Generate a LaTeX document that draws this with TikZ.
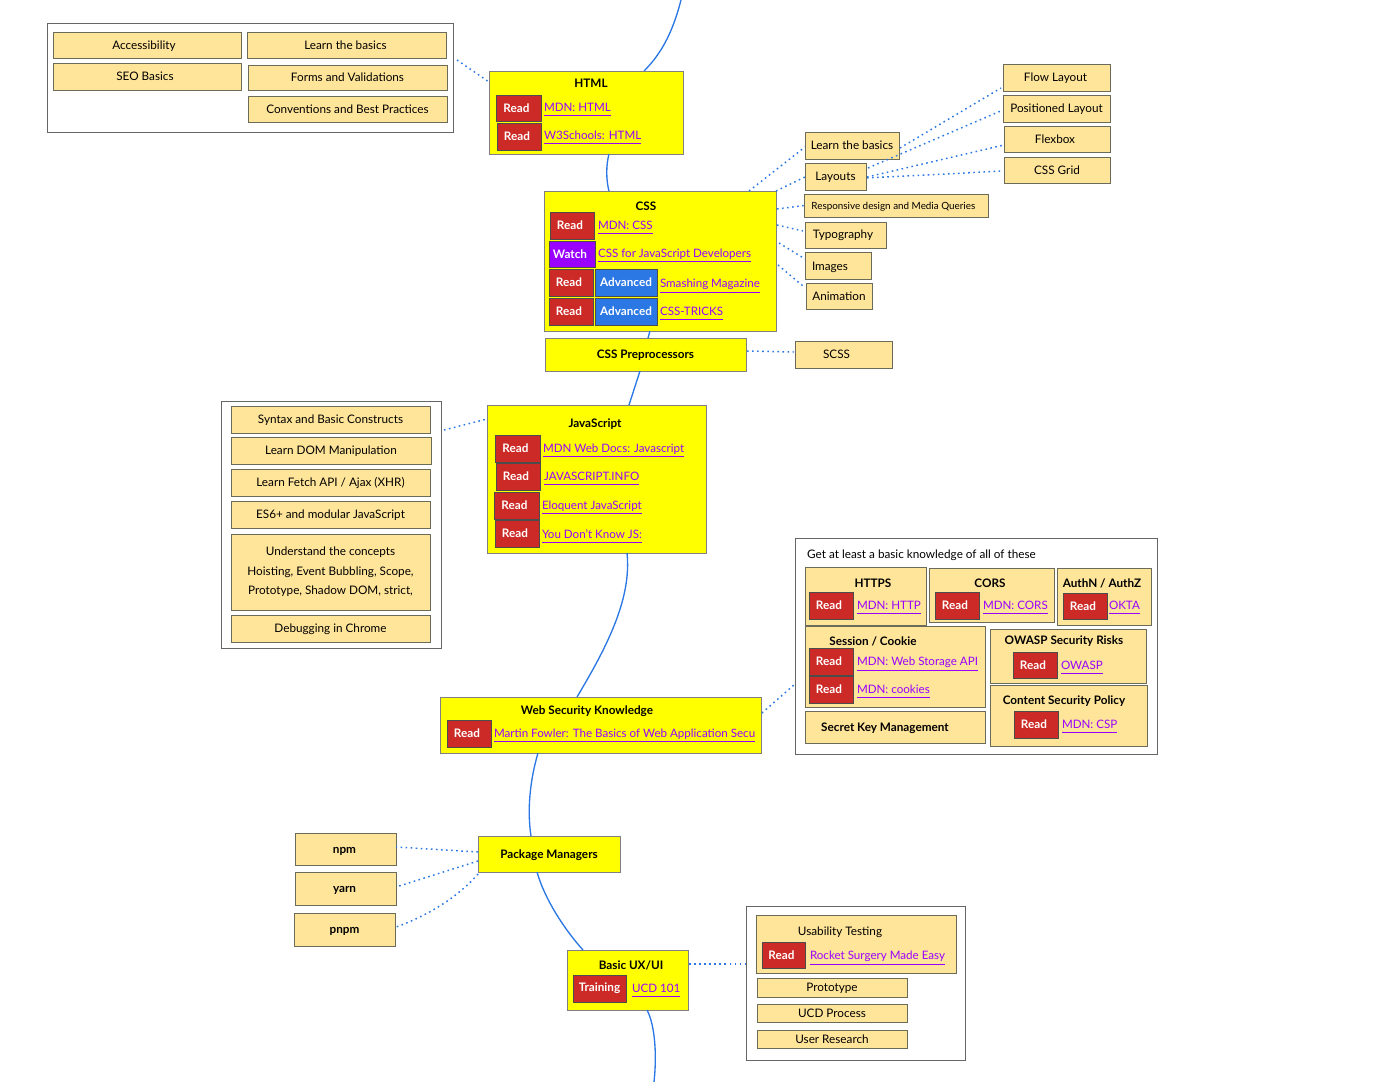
\documentclass[tikz,border=0pt]{standalone}
\usepackage{fontspec}
\setmainfont{Lato}
\definecolor{cyel}{HTML}{FFFF00}
\definecolor{cbox}{HTML}{FFE599}
\definecolor{cred}{HTML}{CC2A26}
\definecolor{cpur}{HTML}{9900FF}
\definecolor{cblu}{HTML}{2B78E4}
\definecolor{cedge}{HTML}{6B6B5A}
\tikzset{
 base/.style={draw=cedge,line width=0.65pt,inner sep=0pt,outer sep=0pt,rectangle,align=center,text=black,font=\fontsize{8.8}{14.6}\selectfont},
 grp/.style={base,draw=black!60,fill=white,line width=.6pt},
 yel/.style={base,draw=black!50,fill=cyel,text height=8.4pt,text depth=1.9pt},
 tan/.style={base,fill=cbox,text height=8.4pt,text depth=1.9pt},
 tanm/.style={base,fill=cbox},
 lshift/.style={execute at end node={\hspace{#1pt}}},
 badgeb/.style={base,draw=black!70,fill=cred,text=white,font=\fontsize{8.8}{10}\bfseries\selectfont},
 badge/.style={badgeb,lshift=3},
 watch/.style={badge,fill=cpur},
 adv/.style={badgeb,fill=cblu},
 ttl/.style={inner sep=0pt,outer sep=0pt,text=black,font=\fontsize{8.8}{10}\bfseries\selectfont},
 plain/.style={inner sep=0pt,outer sep=0pt,text=black,font=\fontsize{8.8}{10}\selectfont},
 multi/.style={inner sep=0pt,outer sep=0pt,text=black,align=center,font=\fontsize{8.8}{14.6}\selectfont},
 lnk/.style={inner sep=0pt,outer sep=0pt,anchor=west,yshift=-2.2pt,text=cpur,font=\fontsize{8.7}{10}\selectfont},
 road/.style={draw=cblu,line width=1pt},
 dot/.style={draw=cblu,line width=1.1pt,dash pattern=on 1.2pt off 2.6pt},
}
\newcommand{\Bx}[7]{\node[#1,minimum width={(#5-#3)*0.75pt},minimum height={(#6-#4)*0.75pt}] (#2) at ({(#3+#5)/2},{(#4+#6)/2}) {#7};}
\newcommand{\Tt}[5][ttl]{\node[#1] (#2) at (#3,{#4+1}) {#5};}
\newcommand{\Lk}[4]{\node[lnk] (#1) at (#2,#3) {\underline{\rule[-1.4pt]{0pt}{1pt}#4}};}
\begin{document}
\begin{tikzpicture}[x=0.75pt,y=-0.75pt]
\useasboundingbox (0,0) rectangle (1400,1082);
\coordinate (topend) at (681,0);
\coordinate (botend) at (654,1082);
% groups
\Bx{grp}{ga}{47}{23}{453}{132}{}
\Bx{tan,lshift=4.5}{a1}{53}{32}{241}{58}{Accessibility}
\Bx{tan,lshift=1.5}{a2}{247}{32}{446}{58}{Learn the basics}
\Bx{tan,lshift=3}{a3}{53}{63}{241}{90}{SEO Basics}
\Bx{tan}{a4}{248}{65}{447}{90}{Forms and Validations}
\Bx{tan}{a5}{248}{96}{447}{122}{Conventions and Best Practices}
% HTML
\Bx{yel}{html}{489}{71}{683}{154}{}
\Tt{htmlt}{591}{82}{HTML}
\Bx{badge}{h1}{496}{95}{541}{121}{Read}
\Lk{h1l}{544}{107}{MDN: HTML}
\Bx{badge}{h2}{497}{123}{541}{150}{Read}
\Lk{h2l}{544}{135}{W3Schools: HTML}
% CSS
\Bx{yel}{css}{544}{191}{776}{331}{}
\Tt{csst}{646}{205}{CSS}
\Bx{badge}{c1}{550}{212}{594}{239}{Read}
\Lk{c1l}{598}{225}{MDN: CSS}
\Bx{watch}{c2}{549}{241}{595}{267}{Watch}
\Lk{c2l}{598}{253}{CSS for JavaScript Developers}
\Bx{badge}{c3}{549}{269}{593}{296}{Read}
\Bx{adv}{c3a}{595}{269}{657}{296}{Advanced}
\Lk{c3l}{660}{283}{Smashing Magazine}
\Bx{badge}{c4}{549}{298}{593}{325}{Read}
\Bx{adv}{c4a}{595}{298}{657}{325}{Advanced}
\Lk{c4l}{660}{311}{CSS-TRICKS}
% CSS children
\Bx{tan}{lb}{805}{132}{899}{159}{Learn the basics}
\Bx{tan}{lay}{805}{163}{866}{190}{Layouts}
\Bx{tan,font=\fontsize{7.4}{9}\selectfont,lshift=4}{resp}{804}{194}{988}{217}{Responsive design and Media Queries}
\Bx{tan}{typ}{805}{222}{886}{248}{}
\Tt[plain]{typt}{843}{234}{Typography}
\Bx{tan}{img}{805}{252}{871}{279}{}
\Tt[plain]{imgt}{830}{266}{Images}
\Bx{tan}{anim}{806}{283}{872}{309}{Animation}
\Bx{tan,lshift=1.5}{flow}{1003}{64}{1110}{91}{Flow Layout}
\Bx{tan}{pos}{1003}{95}{1110}{122}{Positioned Layout}
\Bx{tan,lshift=3}{flex}{1004}{126}{1110}{152}{Flexbox}
\Bx{tan}{grid}{1004}{157}{1110}{183}{CSS Grid}
% Prep
\Bx{yel,font=\fontsize{8.8}{10}\bfseries\selectfont}{prep}{545}{338}{746}{371}{CSS Preprocessors}
\Bx{tan,lshift=10.5}{scss}{795}{341}{892}{368}{SCSS}
% JS group
\Bx{grp}{gb}{221}{401}{441}{648}{}
\Bx{tan}{b1}{231}{406}{430}{433}{Syntax and Basic Constructs}
\Bx{tan}{b2}{231}{437}{431}{464}{Learn DOM Manipulation}
\Bx{tan}{b3}{231}{469}{430}{496}{Learn Fetch API / Ajax (XHR)}
\Bx{tan}{b4}{231}{501}{430}{528}{ES6+ and modular JavaScript}
\Bx{tanm}{b5}{231}{534}{430}{610}{}
\Tt[multi]{b5t}{330.5}{571}{Understand the concepts\\Hoisting, Event Bubbling, Scope,\\Prototype, Shadow DOM, strict,}
\Bx{tan}{b6}{231}{615}{430}{642}{Debugging in Chrome}
% JS
\Bx{yel}{js}{487}{405}{706}{553}{}
\Tt{jst}{595}{423.5}{JavaScript}
\Bx{badge}{j1}{495}{435}{540}{462}{Read}
\Lk{j1l}{543}{448}{MDN Web Docs: Javascript}
\Bx{badge}{j2}{496}{463}{540}{490}{Read}
\Lk{j2l}{544}{476}{JAVASCRIPT.INFO}
\Bx{badge}{j3}{494}{492}{539}{519}{Read}
\Lk{j3l}{542}{505}{Eloquent JavaScript}
\Bx{badge}{j4}{495}{520}{539}{547}{Read}
\Lk{j4l}{542}{533}{You Don't Know JS:}
% Security group
\Bx{grp}{gc}{795}{538}{1157}{754}{}
\Tt[plain]{gct}{921.5}{554}{Get at least a basic knowledge of all of these}
\Bx{tan}{s1}{805}{567}{926}{625}{}
\Tt{s1t}{873}{582}{HTTPS}
\Bx{badge}{s1r}{809}{592}{853}{619}{Read}
\Lk{s1l}{857}{605}{MDN: HTTP}
\Bx{tan}{s2}{929}{568}{1054}{622}{}
\Tt{s2t}{990}{582}{CORS}
\Bx{badge}{s2r}{935}{592}{979}{619}{Read}
\Lk{s2l}{983}{605}{MDN: CORS}
\Bx{tan}{s3}{1057}{568}{1151}{625}{}
\Tt{s3t}{1102}{582}{AuthN / AuthZ}
\Bx{badge}{s3r}{1063}{593}{1107}{619}{Read}
\Lk{s3l}{1109}{605}{OKTA}
\Bx{tan}{s4}{805}{626}{985}{707}{}
\Tt{s4t}{873}{640}{Session / Cookie}
\Bx{badge}{s4r}{809}{648}{853}{675}{Read}
\Lk{s4l}{857}{661}{MDN: Web Storage API}
\Bx{badge}{s4s}{809}{676}{853}{703}{Read}
\Lk{s4m}{857}{689}{MDN: cookies}
\Bx{tan}{s5}{805}{711}{985}{743}{}
\Tt{s5t}{885}{727}{Secret Key Management}
\Bx{tan}{s6}{990}{629}{1146}{683}{}
\Tt{s6t}{1064}{640}{OWASP Security Risks}
\Bx{badge}{s6r}{1013}{652}{1057}{678}{Read}
\Lk{s6l}{1061}{665}{OWASP}
\Bx{tan}{s7}{990}{685}{1147}{746}{}
\Tt{s7t}{1064}{700}{Content Security Policy}
\Bx{badge}{s7r}{1014}{711}{1058}{738}{Read}
\Lk{s7l}{1062}{724}{MDN: CSP}
% Web Security
\Bx{yel}{web}{440}{697}{761}{753}{}
\Tt{webt}{587}{710}{Web Security Knowledge}
\Bx{badge}{w1}{447}{720}{491}{747}{Read}
\Lk{w1l}{494}{733}{Martin Fowler: The Basics of Web Application Secu}
% Package managers
\Bx{yel,font=\fontsize{8.8}{10}\bfseries\selectfont}{pkg}{478}{836}{620}{872}{Package Managers}
\Bx{tan,font=\fontsize{8.8}{10}\bfseries\selectfont,lshift=1.5}{npm}{295}{833}{396}{865}{npm}
\Bx{tan,font=\fontsize{8.8}{10}\bfseries\selectfont,lshift=1.5}{yarn}{295}{872}{396}{905}{yarn}
\Bx{tan,font=\fontsize{8.8}{10}\bfseries\selectfont}{pnpm}{294}{913}{395}{946}{pnpm}
% UX
\Bx{yel}{ux}{567}{950}{688}{1010}{}
\Tt{uxt}{631}{964}{Basic UX/UI}
\Bx{badgeb}{ux1}{573}{975}{626}{1002}{Training}
\Lk{ux1l}{632}{988}{UCD 101}
\Bx{grp}{gd}{746}{906}{965}{1060}{}
\Bx{tan}{d1}{756}{915}{956}{973}{}
\Tt[plain]{d1t}{840}{931}{Usability Testing}
\Bx{badge}{d1r}{762}{942}{805}{968}{Read}
\Lk{d1l}{810}{955}{Rocket Surgery Made Easy}
\Bx{tan}{d2}{757}{978}{907}{997}{Prototype}
\Bx{tan}{d3}{757}{1004}{907}{1022}{UCD Process}
\Bx{tan}{d4}{757}{1030}{907}{1048}{User Research}
% roadmap curves
\draw[road] (topend) .. controls (672,35) and (660,55) .. ([shift={(58,0)}]html.north);
\draw[road] ([shift={(23,0)}]html.south) .. controls (606,165) and (606,180) .. ([shift={(-51,0)}]css.north);
\draw[road] ([shift={(-10,0)}]css.south) -- ([shift={(2.5,0)}]prep.north);
\draw[road] ([shift={(-5.5,0)}]prep.south) -- ([shift={(32.5,0)}]js.north);
\draw[road] ([shift={(30.5,0)}]js.south) .. controls (632,600) and (605,650) .. ([shift={(-23.5,0)}]web.north);
\draw[road] ([shift={(-62.5,0)}]web.south) .. controls (530,780) and (527,810) .. ([shift={(-18,0)}]pkg.north);
\draw[road] ([shift={(-12,0)}]pkg.south) .. controls (545,900) and (565,930) .. ([shift={(-44.5,0)}]ux.north);
\draw[road] ([shift={(19.5,0)}]ux.south) .. controls (655,1025) and (657,1055) .. (botend);
% dotted
\draw[dot] ([shift={(4,-17.5)}]ga.east) -- ([shift={(0,-30.5)}]html.west);
\draw[dot] ([shift={(-27,0)}]css.north east) -- ([shift={(0,1.5)}]lb.west);
\draw[dot] (css.north east) -- ([shift={(0,.5)}]lay.west);
\draw[dot] ([shift={(1,18)}]css.north east) -- (resp.west);
\draw[dot] ([shift={(1,34)}]css.north east) -- ([shift={(-2,-4)}]typ.west);
\draw[dot] ([shift={(3,52)}]css.north east) -- ([shift={(0,-6.5)}]img.west);
\draw[dot] ([shift={(2,74)}]css.north east) -- ([shift={(-3,-10)}]anim.west);
\draw[dot] ([shift={(1,2.5)}]lb.east) -- ([shift={(-2,10.5)}]flow.west);
\draw[dot] ([shift={(2,-8.5)}]lay.east) -- ([shift={(0,1.5)}]pos.west);
\draw[dot] ([shift={(1,.5)}]lay.east) -- ([shift={(0,6)}]flex.west);
\draw[dot] ([shift={(1,1.5)}]lay.east) -- ([shift={(-1,1)}]grid.west);
\draw[dot] ([shift={(1,-3.5)}]prep.east) -- ([shift={(-1,-2.5)}]scss.west);
\draw[dot] ([shift={(3,-94.5)}]gb.east) -- ([shift={(0,-60)}]js.west);
\draw[dot] ([shift={(1,-12)}]web.east) -- ([shift={(0,38)}]gc.west);
\draw[dot] ([shift={(0,-2)}]pkg.west) -- ([shift={(0,-2)}]npm.east);
\draw[dot] ([shift={(0,7)}]pkg.west) -- ([shift={(0,-1.5)}]yarn.east);
\draw[dot] ([shift={(0,20)}]pkg.west) .. controls (460,895) and (430,915) .. ([shift={(1,-2.5)}]pnpm.east);
\draw[dot] ([shift={(1,-16)}]ux.east) -- ([shift={(0,-19)}]gd.west);
\end{tikzpicture}
\end{document}
